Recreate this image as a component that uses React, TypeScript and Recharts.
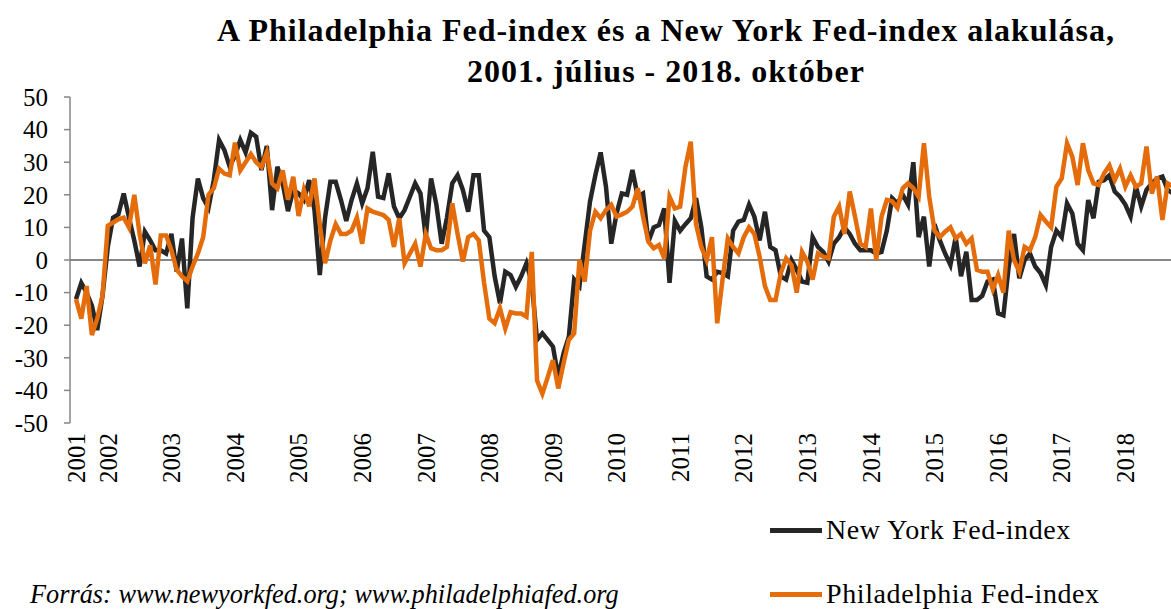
import React from 'react';
import { LineChart, Line, XAxis, YAxis, ReferenceLine } from 'recharts';

// havi kategóriák: 2001. július - 2018. október
const months: string[] = [];
for (let y = 2001; y <= 2018; y++) {
  for (let m = 1; m <= 12; m++) {
    if ((y === 2001 && m < 7) || (y === 2018 && m > 10)) continue;
    months.push(`${y}-${String(m).padStart(2, '0')}`);
  }
}

const nyFed = [
  -12, -7, -10, -14, -21.5, -11, 4, 13, 14, 20.4, 13, 6, -2, 8.7, 6, 3, 3, 2,
  8, -3.6, 6.6, -14.8, 13, 25, 19, 16, 24.5, 36.8, 33.7, 28.6, 32, 36.8, 33, 39, 37.8, 27.6,
  35, 15.3, 28.6, 23.5, 15, 21.5, 20.4, 18.4, 24.5, 15.3, -4.6, 13, 24, 24, 18.4, 12, 18.4, 23.5,
  17.4, 22, 33.2, 19.4, 19, 26.6, 16.4, 12.8, 15.3, 19.4, 23.5, 20.4, 7, 25, 17, 5, 13, 23.5,
  26, 21.5, 14.8, 26, 26, 9, 7, -5, -13.3, -3.6, -4.6, -8.2, -5, -1, -7, -24.5, -22.5, -24.5,
  -26.6, -35.8, -28.6, -23.5, -6, -8, 5, 18, 26, 33, 22.5, 5, 14.3, 20.4, 20, 27.6, 19.4, 20.4,
  5.6, 10, 10.7, 15.8, -7, 12, 9, 11, 12.8, 19, 10, -5, -6, -3.6, -4, -5, 9, 11.8,
  12.3, 17, 13.3, 6, 14.8, 4, 3, -5, -6, 0, -3, -6.6, -7, 7, 4, 2.5, -0.5, 5,
  7, 10, 8, 5, 3, 3, 3, 2, 2.5, 9, 19, 17.4, 20, 17, 30, 7, 13.3, -2,
  11, 6, 2, -1.5, 7, -5, 2.5, -12.3, -12.3, -11, -6.6, -6, -16.4, -17, -2, 8, -5.6, 0,
  2, -2, -4, -7.7, 4, 9, 7, 17.4, 14.3, 5, 3, 18.4, 12.8, 24, 24.5, 26, 21, 19.4,
  17, 13.3, 22.5, 16.4, 21.5, 23.5, 25, 25.6, 21.5, 20.4,
];

const phillyFed = [
  -12, -18, -8, -23, -18, -11, 10.5, 11.5, 12.5, 13, 10, 20, 8, -1, 4.5, -7.5, 7.5, 7.5,
  3, -3, -5, -6.5, -2, 2, 7, 20, 22, 28, 26.5, 26, 36, 27.5, 30, 32.5, 30, 28.5,
  33, 23.5, 22, 27.5, 18.5, 25.5, 13.5, 21.5, 16.5, 25, 11, -1, 6, 11, 8, 8, 9, 13,
  5, 15.8, 14.8, 14.3, 13.8, 12.3, 4, 12.8, -1, 2, 5, -2, 8, 3.6, 3, 3, 4, 17.4,
  8, -0.5, 7, 8, 6, -7, -18, -19.4, -14.8, -21, -16, -16.4, -16.4, -17.4, 2.5, -37, -41, -36,
  -30.7, -39.4, -31.7, -24.5, -22.5, 0, -6.6, 9, 14.8, 12.8, 15.3, 16.9, 13.3, 14, 14.8, 16.4, 22, 13.3,
  5.6, 3.6, 4.6, 0.5, 19.4, 15.8, 16.4, 28.6, 36.3, 11, 4, 0, 7, -19.4, -6, 6.6, 4, 2,
  7, 10, 8, 1, -8, -12.3, -12.3, -4, 0.5, -1.5, -10, 2.5, -0.5, -6, 2, 1, 0.5, 13.3,
  16.4, 8, 21, 13.3, 5, 4, 15.8, 0, 13.3, 18.4, 18, 16, 22, 23.5, 22, 19.4, 35.8, 19.4,
  9, 7, 8.7, 10, 6.6, 8, 5, 6.6, -3, -3.6, -3.6, -9, -4.6, -10, 9, 0, -3.6, 4,
  3, 7, 13.8, 11.8, 10, 22.5, 25, 35.8, 31.7, 23, 35.8, 27.6, 23.5, 23, 26.6, 29, 24.5, 28,
  22.5, 26, 22.5, 23.5, 34.8, 20.4, 25.6, 12.3, 23.5, 22.5,
];

const yTicks = [-50, -40, -30, -20, -10, 0, 10, 20, 30, 40, 50];

const data = months.map((m, i) => ({ month: m, ny: nyFed[i], philly: phillyFed[i] }));

const tickFont = 'Liberation Serif, Times New Roman, serif';

const YearTick = (props: any) => {
  const { x, y, payload, index } = props;
  const m: string = payload.value;
  if (!(index === 0 || m.endsWith('-01'))) return null;
  return (
    <text
      x={x}
      y={y}
      transform={`rotate(-90, ${x}, ${y})`}
      textAnchor="end"
      dy="0.35em"
      fontSize={25}
      fontFamily={tickFont}
      fill="#000"
    >
      {m.slice(0, 4)}
    </text>
  );
};

export default function App() {
  return (
    <div
      style={{
        position: 'fixed',
        left: 0,
        top: 0,
        width: 1171,
        height: 609,
        overflow: 'hidden',
        background: '#fff',
        fontFamily: tickFont,
      }}
    >
      <div
        style={{
          position: 'absolute',
          left: 66,
          top: 10,
          width: 1200,
          textAlign: 'center',
          fontWeight: 'bold',
          fontSize: 32,
          letterSpacing: 1,
          lineHeight: '41px',
          color: '#000',
        }}
      >
        A Philadelphia Fed-index és a New York Fed-index alakulása,
        <br />
        2001. július - 2018. október
      </div>

      <LineChart
        width={1180}
        height={609}
        data={data}
        margin={{ top: 97, right: 0, bottom: 156, left: 10 }}
        style={{ position: 'absolute', left: 0, top: 0 }}
      >
        <XAxis
          dataKey="month"
          interval={0}
          axisLine={false}
          tickLine={false}
          tickSize={0}
          tickMargin={10}
          height={30}
          padding={{ left: 6, right: 7 }}
          tick={<YearTick />}
        />
        <YAxis
          domain={[-50, 50]}
          ticks={yTicks}
          interval={0}
          width={60}
          axisLine={{ stroke: '#868686', strokeWidth: 1.5 }}
          tickLine={{ stroke: '#868686', strokeWidth: 1.5 }}
          tickSize={6}
          tickMargin={16}
          tick={{ fontSize: 25, fill: '#000', fontFamily: tickFont }}
        />
        <ReferenceLine y={0} stroke="#868686" strokeWidth={2} />
        <Line
          type="linear"
          dataKey="ny"
          stroke="#262626"
          strokeWidth={4.5}
          dot={false}
          isAnimationActive={false}
        />
        <Line
          type="linear"
          dataKey="philly"
          stroke="#E46C0A"
          strokeWidth={4.5}
          dot={false}
          isAnimationActive={false}
        />
      </LineChart>

      {/* jelmagyarázat */}
      <div style={{ position: 'absolute', left: 770, top: 512, fontSize: 28, letterSpacing: 0.6, lineHeight: '36px' }}>
        <div style={{ display: 'flex', alignItems: 'center' }}>
          <span style={{ display: 'inline-block', width: 52, height: 5, background: '#262626', marginRight: 4 }} />
          New York Fed-index
        </div>
      </div>
      <div style={{ position: 'absolute', left: 770, top: 576, fontSize: 28, letterSpacing: 0.6, lineHeight: '36px' }}>
        <div style={{ display: 'flex', alignItems: 'center' }}>
          <span style={{ display: 'inline-block', width: 52, height: 5, background: '#E46C0A', marginRight: 4 }} />
          Philadelphia Fed-index
        </div>
      </div>

      <div
        style={{
          position: 'absolute',
          left: 30,
          top: 577,
          fontSize: 26.3,
          fontStyle: 'italic',
          lineHeight: '36px',
        }}
      >
        Forrás: www.newyorkfed.org; www.philadelphiafed.org
      </div>
    </div>
  );
}
